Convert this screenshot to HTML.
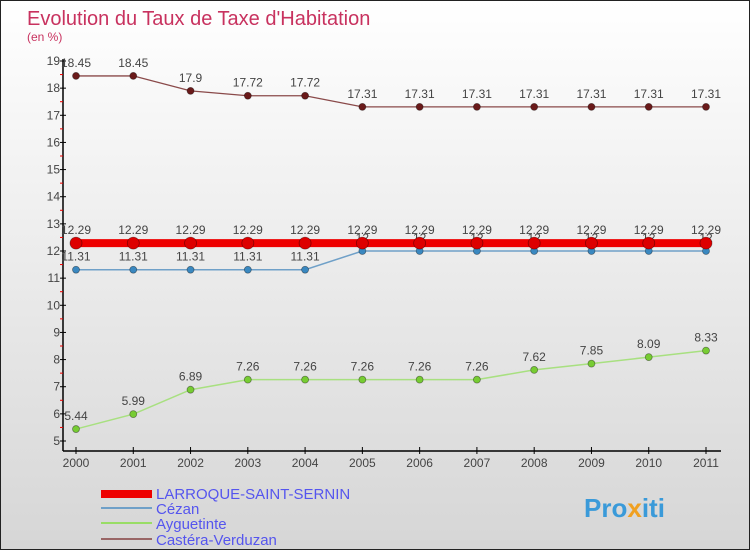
<!DOCTYPE html>
<html><head><meta charset="utf-8"><style>
html,body{margin:0;padding:0}
body{width:750px;height:550px;overflow:hidden;font-family:"Liberation Sans","DejaVu Sans",sans-serif}
#wrap{position:relative;width:748px;height:548px;border:1px solid #222;background:linear-gradient(#ffffff,#d6d6d6)}
</style></head><body>
<div id="wrap">
<svg id="chart" width="748" height="548" style="position:absolute;left:0;top:0">
<text x="26" y="24" font-size="20" fill="#c8325f">Evolution du Taux de Taxe d'Habitation</text>
<text x="26" y="40" font-size="12" fill="#c8325f">(en %)</text>
<g id="axes"></g><g id="series"></g>
<g>
<rect x="100" y="489" width="51" height="8" fill="#ee0000"/>
<text x="155" y="498" font-size="15" fill="#5555ee">LARROQUE-SAINT-SERNIN</text>
<rect x="100" y="506" width="51" height="2" fill="#6fa0c8"/>
<text x="155" y="513" font-size="15" fill="#5555ee">Cézan</text>
<rect x="100" y="521" width="51" height="2" fill="#99dd66"/>
<text x="155" y="528" font-size="15" fill="#5555ee">Ayguetinte</text>
<rect x="100" y="537" width="51" height="2" fill="#996666"/>
<text x="155" y="544" font-size="15" fill="#5555ee">Castéra-Verduzan</text>
</g>
<text x="583" y="516" font-size="26" font-weight="bold" fill="#3a9ad9">Pro<tspan fill="#f0a020">x</tspan>iti</text>
</svg>
</div>
<script>
const years=[2000,2001,2002,2003,2004,2005,2006,2007,2008,2009,2010,2011];
const yTicks=[5,6,7,8,9,10,11,12,13,14,15,16,17,18,19];
const larroque=[12.29,12.29,12.29,12.29,12.29,12.29,12.29,12.29,12.29,12.29,12.29,12.29];
const cezan=[11.31,11.31,11.31,11.31,11.31,12,12,12,12,12,12,12];
const ayguetinte=[5.44,5.99,6.89,7.26,7.26,7.26,7.26,7.26,7.62,7.85,8.09,8.33];
const castera=[18.45,18.45,17.9,17.72,17.72,17.31,17.31,17.31,17.31,17.31,17.31,17.31];
const NS="http://www.w3.org/2000/svg";
const xS=i=>75+i*(705-75)/(years.length-1);
const yS=v=>440-(v-5)*(440-60)/14;
function mk(p,t,a){const e=document.createElementNS(NS,t);for(const k in a)e.setAttribute(k,a[k]);p.appendChild(e);return e;}
const ax=document.getElementById('axes');
let l=mk(ax,'line',{x1:62,y1:58,x2:62,y2:450,stroke:'#000','stroke-width':1.5});


l=mk(ax,'line',{x1:62,y1:450,x2:720,y2:450,stroke:'#000','stroke-width':1.5});


yTicks.forEach(v=>{
 mk(ax,'line',{x1:59,y1:yS(v),x2:65,y2:yS(v),stroke:'#000'});
 if(v<19)mk(ax,'line',{x1:59,y1:yS(v+0.5),x2:62,y2:yS(v+0.5),stroke:'#e00'});
 const t=mk(ax,'text',{x:59,y:yS(v)+4,'font-size':12,fill:'#444','text-anchor':'end'});t.textContent=v;
 
 
});
years.forEach((y,i)=>{
 mk(ax,'line',{x1:xS(i),y1:446,x2:xS(i),y2:453,stroke:'#000'});
 const t=mk(ax,'text',{x:xS(i),y:466,'font-size':12,fill:'#444','text-anchor':'middle'});t.textContent=y;
 
 
});
const sg=document.getElementById('series');
function draw(name,vals,color,w,r,fill,labels){
 const g=mk(sg,'g',{});
 
 
 mk(g,'polyline',{points:vals.map((v,i)=>xS(i)+','+yS(v)).join(' '),fill:'none',stroke:color,'stroke-width':w});
 vals.forEach((v,i)=>{
  const c=mk(g,'circle',{cx:xS(i),cy:yS(v),r:r,fill:fill,stroke:'rgba(0,0,0,0.4)','stroke-width':0.8});
  
  
  if(labels){const t=mk(g,'text',{x:xS(i),y:yS(v)-9,'font-size':12,fill:'#444','text-anchor':'middle'});t.textContent=v;
  
  }
 });
}
draw('castera',castera,'#8a4a4a',1.3,3.5,'#6a1a1a',true);
draw('ayguetinte',ayguetinte,'#a8e080',1.5,3.5,'#77cc33',true);
draw('cezan',cezan,'#6fa0c8',1.5,3.5,'#3a88c0',true);
draw('larroque',larroque,'#ee0000',8,6,'#dd0000',true);
</script>
</body></html>
